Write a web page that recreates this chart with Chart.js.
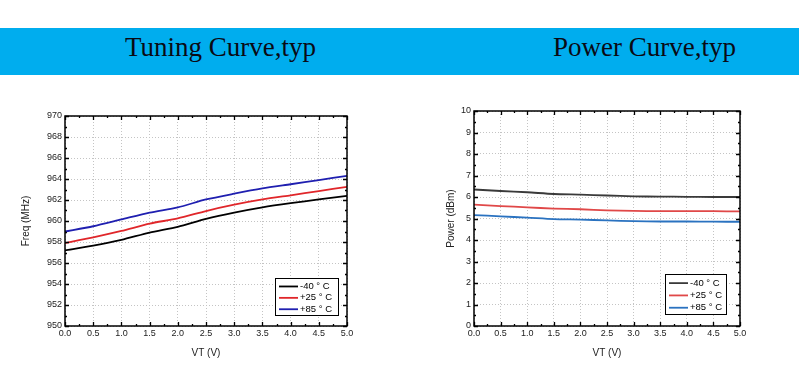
<!DOCTYPE html>
<html>
<head>
<meta charset="utf-8">
<script src="https://cdn.jsdelivr.net/npm/chart.js@4.4.1/dist/chart.umd.min.js"></script>
<style>
  html, body { margin:0; padding:0; background:#fff; width:799px; height:382px; overflow:hidden; }
  #banner { position:absolute; left:0; top:28px; width:799px; height:47px; background:#00adee; }
  .btitle { position:absolute; top:32px; font-family:"Liberation Serif","Times New Roman",serif; font-size:27px; color:#0a0a14; white-space:nowrap; transform-origin:left top; transform:scaleX(1.0); }
  #c1wrap { position:absolute; left:0; top:90px; width:380px; height:280px; }
  #c2wrap { position:absolute; left:400px; top:90px; width:380px; height:280px; }
</style>
</head>
<body>
<div id="banner"></div>
<div class="btitle" id="t1" style="left:125px;">Tuning Curve,typ</div>
<div class="btitle" id="t2" style="left:553px;">Power Curve,typ</div>
<div id="c1wrap"><canvas id="c1" width="380" height="280"></canvas></div>
<div id="c2wrap"><canvas id="c2" width="380" height="280"></canvas></div>
<script>
// ---------- data ----------
const vt = [0.0, 0.5, 1.0, 1.5, 2.0, 2.5, 3.0, 3.5, 4.0, 4.5, 5.0];
const seriesNames = ["-40 ° C", "+25 ° C", "+85 ° C"];

const freqM40 = [957.2, 957.65, 958.2, 958.9, 959.45, 960.2, 960.8, 961.3, 961.7, 962.05, 962.4];
const freqP25 = [957.9, 958.45, 959.05, 959.75, 960.25, 960.95, 961.55, 962.05, 962.45, 962.85, 963.25];
const freqP85 = [959.0, 959.5, 960.15, 960.8, 961.3, 962.05, 962.6, 963.1, 963.5, 963.9, 964.3];

const powM40 = [6.35, 6.28, 6.22, 6.14, 6.11, 6.07, 6.03, 6.02, 6.01, 6.0, 6.0];
const powP25 = [5.65, 5.58, 5.52, 5.46, 5.43, 5.38, 5.35, 5.34, 5.34, 5.34, 5.33];
const powP85 = [5.16, 5.10, 5.04, 4.97, 4.95, 4.91, 4.88, 4.86, 4.86, 4.85, 4.85];

const xTicks = [0, 0.5, 1, 1.5, 2, 2.5, 3, 3.5, 4, 4.5, 5];
const freqTicks = [950, 952, 954, 956, 958, 960, 962, 964, 966, 968, 970];
const powTicks = [0, 1, 2, 3, 4, 5, 6, 7, 8, 9, 10];

const fontFam = '"Liberation Sans", Arial, sans-serif';

// frame + inward ticks + in-plot legend
const framePlugin = {
  id: 'frame',
  afterDraw(chart, args, opts) {
    const ctx = chart.ctx, a = chart.chartArea;
    const xs = chart.scales.x, ys = chart.scales.y;
    ctx.save();
    ctx.strokeStyle = '#000';
    ctx.lineWidth = 1.3;
    const xStep = opts.xMinor, yStep = opts.yMinor;
    ctx.beginPath();
    for (let v = xs.min; v <= xs.max + 1e-9; v += xStep) {
      const px = Math.round(xs.getPixelForValue(v)) + 0.5;
      const major = Math.abs(v / (2 * xStep) - Math.round(v / (2 * xStep))) < 1e-6;
      const L = major ? 4 : 2;
      ctx.moveTo(px, a.bottom); ctx.lineTo(px, a.bottom - L);
      ctx.moveTo(px, a.top); ctx.lineTo(px, a.top + L);
    }
    for (let v = ys.min; v <= ys.max + 1e-9; v += yStep) {
      const py = Math.round(ys.getPixelForValue(v)) + 0.5;
      const k = (v - ys.min) / yStep;
      const major = Math.abs(k / 2 - Math.round(k / 2)) < 1e-6;
      const L = major ? 4 : 2;
      ctx.moveTo(a.left, py); ctx.lineTo(a.left + L, py);
      ctx.moveTo(a.right, py); ctx.lineTo(a.right - L, py);
    }
    ctx.stroke();
    ctx.lineWidth = 1.5;
    ctx.strokeRect(a.left, a.top, a.right - a.left, a.bottom - a.top);

    // legend
    const lw = opts.legW, lh = opts.legH;
    const bx = a.right - opts.legRight - lw, by = a.bottom - opts.legBottom - lh;
    ctx.fillStyle = '#fff';
    ctx.fillRect(bx, by, lw, lh);
    ctx.lineWidth = 1;
    ctx.strokeStyle = '#000';
    ctx.strokeRect(bx + 0.5, by + 0.5, lw, lh);
    ctx.font = '9.5px ' + fontFam;
    ctx.textBaseline = 'middle';
    const rowH = lh / 3.25;
    chart.data.datasets.forEach((ds, i) => {
      const cy = by + rowH * 0.7 + i * rowH + 0.5;
      ctx.strokeStyle = ds.borderColor;
      ctx.lineWidth = 1.8;
      ctx.beginPath();
      ctx.moveTo(bx + 4, cy); ctx.lineTo(bx + 23, cy);
      ctx.stroke();
      ctx.fillStyle = '#000';
      ctx.fillText(ds.label, bx + 25, cy);
    });
    ctx.restore();
  }
};

function makeChart(id, series, colors, yMin, yMax, yTicks, yTitle, yAxisW, pad, legend) {
  new Chart(document.getElementById(id), {
    type: 'line',
    data: {
      datasets: series.map((s, i) => ({
        label: seriesNames[i],
        data: vt.map((x, j) => ({ x: x, y: s[j] })),
        borderColor: colors[i],
        borderWidth: 1.8,
        pointRadius: 0,
        tension: 0.25,
        fill: false
      }))
    },
    options: {
      responsive: false,
      animation: false,
      layout: { padding: pad },
      plugins: { legend: { display: false }, tooltip: { enabled: false }, frame: legend },
      scales: {
        x: {
          type: 'linear', min: 0, max: 5,
          afterBuildTicks: (sc) => { sc.ticks = xTicks.map(v => ({ value: v })); },
          afterFit: (sc) => { sc.height = 33; },
          ticks: { callback: (v) => v.toFixed(1), font: { family: fontFam, size: 9 }, color: '#222', padding: 2, maxRotation: 0 },
          grid: { color: '#c4c4c4', drawTicks: false, tickLength: 0 },
          border: { display: false, dash: [1, 2] },
          title: { display: true, text: 'VT (V)', font: { family: fontFam, size: 10 }, color: '#222', padding: { top: 4, bottom: 0 } }
        },
        y: {
          type: 'linear', min: yMin, max: yMax,
          afterBuildTicks: (sc) => { sc.ticks = yTicks.map(v => ({ value: v })); },
          afterFit: (sc) => { sc.width = yAxisW; },
          ticks: { font: { family: fontFam, size: 9 }, color: '#222', padding: 3 },
          grid: { color: '#c4c4c4', drawTicks: false, tickLength: 0 },
          border: { display: false, dash: [1, 2] },
          title: { display: true, text: yTitle, font: { family: fontFam, size: 10 }, color: '#222', padding: 0 }
        }
      }
    },
    plugins: [framePlugin]
  });
}

makeChart('c1', [freqM40, freqP25, freqP85], ['#000000', '#e0262a', '#1f1fb0'],
  950, 970, freqTicks, 'Freq (MHz)', 45, { left: 20, right: 33, top: 26, bottom: 11 },
  { xMinor: 0.25, yMinor: 1, legW: 63, legH: 37, legRight: 9, legBottom: 11 });

makeChart('c2', [powM40, powP25, powP85], ['#3a3a3a', '#e04848', '#2a72c0'],
  0, 10, powTicks, 'Power (dBm)', 29, { left: 45, right: 40, top: 21, bottom: 11 },
  { xMinor: 0.25, yMinor: 0.5, legW: 61, legH: 40, legRight: 14, legBottom: 12 });
</script>
</body>
</html>
